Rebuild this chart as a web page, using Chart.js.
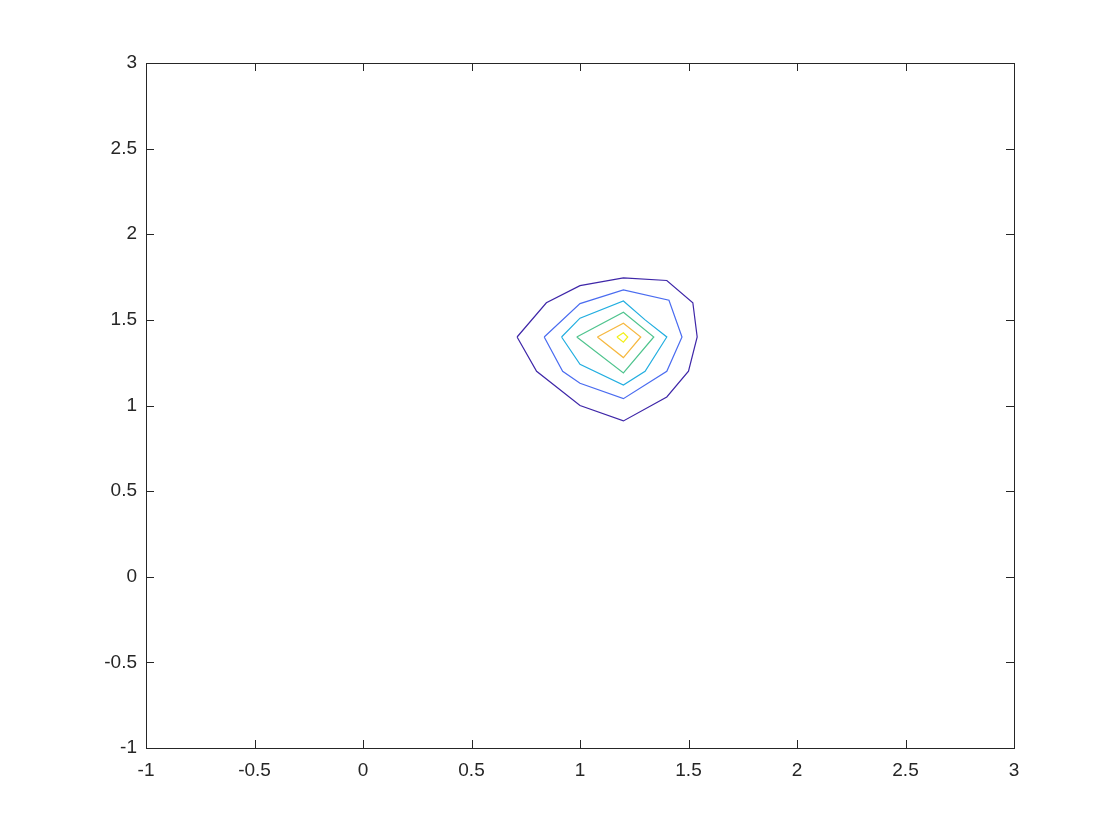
<!DOCTYPE html>
<html>
<head>
<meta charset="utf-8">
<script src="https://cdn.jsdelivr.net/npm/chart.js@4/dist/chart.umd.min.js"></script>
<style>
    body { margin: 0; background: #ffffff; }
    #wrap { width: 1120px; height: 840px; }
</style>
</head>
<body>
<div id="wrap"><canvas id="contourChart" width="1120" height="840"></canvas></div>
<script>
// Axis ticks
const xTicks = [-1, -0.5, 0, 0.5, 1, 1.5, 2, 2.5, 3];
const yTicks = [-1, -0.5, 0, 0.5, 1, 1.5, 2, 2.5, 3];

// Contour levels, outermost first (vertices)
const level1X = [0.71, 0.80, 1.00, 1.20, 1.40, 1.50, 1.54, 1.52, 1.40, 1.20, 1.00, 0.845];
const level1Y = [1.40, 1.20, 1.00, 0.91, 1.05, 1.20, 1.40, 1.60, 1.73, 1.745, 1.70, 1.60];

const level2X = [0.835, 0.92, 1.00, 1.20, 1.40, 1.47, 1.41, 1.20, 1.00];
const level2Y = [1.40, 1.20, 1.13, 1.04, 1.20, 1.40, 1.615, 1.675, 1.595];

const level3X = [0.915, 1.00, 1.20, 1.30, 1.40, 1.30, 1.20, 1.00];
const level3Y = [1.40, 1.24, 1.12, 1.20, 1.40, 1.50, 1.61, 1.51];

const level4X = [0.985, 1.20, 1.34, 1.20];
const level4Y = [1.40, 1.19, 1.40, 1.545];

const level5X = [1.08, 1.20, 1.28, 1.20];
const level5Y = [1.40, 1.28, 1.40, 1.48];

const level6X = [1.17, 1.20, 1.22, 1.20];
const level6Y = [1.40, 1.37, 1.40, 1.425];

// parula-ish colours per level
const levelColors = ['#3e26a8', '#4a6cf0', '#22aee0', '#4fc48e', '#f6b840', '#f2f01a'];

const levels = [
    [level1X, level1Y],
    [level2X, level2Y],
    [level3X, level3Y],
    [level4X, level4Y],
    [level5X, level5Y],
    [level6X, level6Y],
];

// closed polyline for each level
function toPoints(xs, ys) {
    let pts = xs.map((x, i) => ({x: x, y: ys[i]}));
    pts.push({x: xs[0], y: ys[0]});
    return pts;
}

const datasets = levels.map((lv, i) => ({
    data: toPoints(lv[0], lv[1]),
    showLine: true,
    borderColor: levelColors[i],
    borderWidth: 1.2,
    pointRadius: 0,
    fill: false,
    tension: 0,
}));

const axisColor = '#262626';
const tickFont = {family: 'Liberation Sans, Arial, sans-serif', size: 19};

// box round the plot plus inward ticks on all four sides
const boxPlugin = {
    id: 'box',
    afterDraw(chart) {
        const ctx = chart.ctx;
        const a = chart.chartArea;
        const xs = chart.scales.x;
        const ys = chart.scales.y;
        const len = 8;
        ctx.save();
        ctx.strokeStyle = axisColor;
        ctx.lineWidth = 1;
        ctx.strokeRect(Math.round(a.left) + 0.5, Math.round(a.top) + 0.5,
            Math.round(a.right - a.left), Math.round(a.bottom - a.top));
        ctx.beginPath();
        xTicks.forEach(v => {
            const px = Math.round(xs.getPixelForValue(v)) + 0.5;
            ctx.moveTo(px, a.bottom);
            ctx.lineTo(px, a.bottom - len);
            ctx.moveTo(px, a.top);
            ctx.lineTo(px, a.top + len);
        });
        yTicks.forEach(v => {
            const py = Math.round(ys.getPixelForValue(v)) + 0.5;
            ctx.moveTo(a.left, py);
            ctx.lineTo(a.left + len, py);
            ctx.moveTo(a.right, py);
            ctx.lineTo(a.right - len, py);
        });
        ctx.stroke();
        ctx.restore();
    }
};

new Chart(document.getElementById('contourChart'), {
    type: 'scatter',
    data: {datasets: datasets},
    plugins: [boxPlugin],
    options: {
        responsive: false,
        animation: false,
        layout: {padding: {left: 0, top: 63, right: 106, bottom: 0}},
        plugins: {
            legend: {display: false},
            tooltip: {enabled: false},
        },
        scales: {
            x: {
                type: 'linear',
                min: -1,
                max: 3,
                afterBuildTicks: (scale) => { scale.ticks = xTicks.map(v => ({value: v})); },
                afterFit: (scale) => { scale.height = 92; },
                grid: {display: false, drawTicks: false},
                border: {display: false},
                ticks: {
                    color: axisColor,
                    padding: 11,
                    maxRotation: 0,
                    font: tickFont,
                    callback: (v) => String(v),
                },
            },
            y: {
                type: 'linear',
                min: -1,
                max: 3,
                afterBuildTicks: (scale) => { scale.ticks = yTicks.map(v => ({value: v})); },
                afterFit: (scale) => { scale.width = 146; },
                grid: {display: false, drawTicks: false},
                border: {display: false},
                ticks: {
                    color: axisColor,
                    padding: 9,
                    font: tickFont,
                    callback: (v) => String(v),
                },
            },
        },
    },
});
</script>
</body>
</html>
